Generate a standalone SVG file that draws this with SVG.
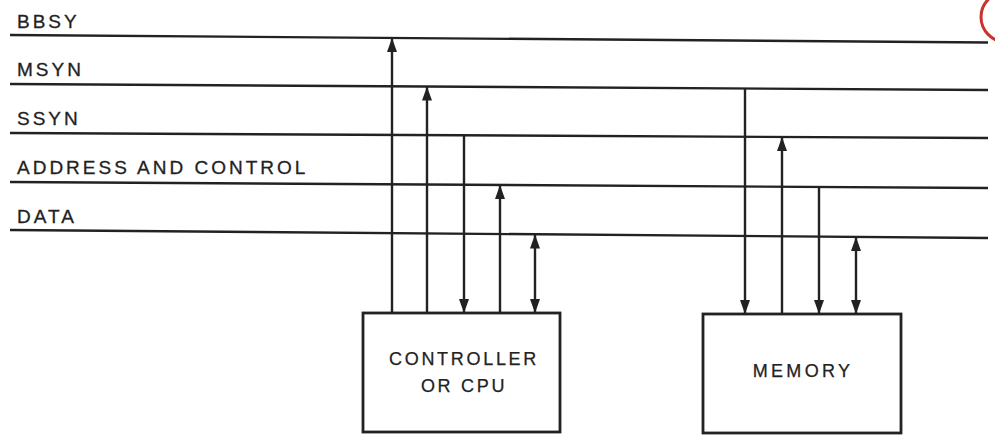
<svg xmlns="http://www.w3.org/2000/svg" width="995" height="440" viewBox="0 0 995 440">
<style>
.bus{stroke:#222;stroke-width:2.4;fill:none}
.lbl{font-family:"Liberation Sans",Arial,sans-serif;font-size:19px;letter-spacing:3px;fill:#222;stroke:#222;stroke-width:0.3}
.box{fill:#fff;stroke:#222;stroke-width:2.8}
.btxt{font-family:"Liberation Sans",Arial,sans-serif;font-size:18px;letter-spacing:2.7px;fill:#222;stroke:#222;stroke-width:0.25;text-anchor:middle}
.conn{stroke:#222;stroke-width:2.4;fill:none}
.up{marker-end:url(#ah)}
.both{marker-start:url(#ah);marker-end:url(#ah)}
</style>
<defs>
<marker id="ah" viewBox="0 0 14 10" refX="14" refY="5" markerWidth="14" markerHeight="10" markerUnits="userSpaceOnUse" orient="auto-start-reverse">
<path d="M0,0 L14,5 L0,10 z" fill="#222"/>
</marker>
</defs>
<rect width="995" height="440" fill="#fff"/>
<g id="buses">
<line class="bus" x1="10" y1="35" x2="988" y2="42.5"/>
<line class="bus" x1="10" y1="84" x2="988" y2="90"/>
<line class="bus" x1="10" y1="133" x2="988" y2="138"/>
<line class="bus" x1="10" y1="182" x2="988" y2="188"/>
<line class="bus" x1="10" y1="230" x2="988" y2="238"/>
<text class="lbl" x="17" y="28">BBSY</text>
<text class="lbl" x="17" y="76">MSYN</text>
<text class="lbl" x="17" y="125">SSYN</text>
<text class="lbl" x="17" y="174">ADDRESS AND CONTROL</text>
<text class="lbl" x="17" y="223">DATA</text>
</g>
<g id="connectors">
<line class="conn up" x1="392" y1="313" x2="392" y2="38"/>
<line class="conn up" x1="427" y1="313" x2="427" y2="86.6"/>
<line class="conn up" x1="464" y1="135.3" x2="464" y2="313"/>
<line class="conn up" x1="500" y1="313" x2="500" y2="185"/>
<line class="conn both" x1="535" y1="234.5" x2="535" y2="313"/>
<line class="conn up" x1="745" y1="88.5" x2="745" y2="314"/>
<line class="conn up" x1="782" y1="314" x2="782" y2="137"/>
<line class="conn up" x1="819" y1="187" x2="819" y2="314"/>
<line class="conn both" x1="856" y1="237" x2="856" y2="314"/>
</g>
<g id="controller">
<rect class="box" x="363" y="313" width="197" height="119"/>
<text class="btxt" x="464" y="365">CONTROLLER</text>
<text class="btxt" x="464" y="392">OR CPU</text>
</g>
<g id="memory">
<rect class="box" x="703" y="314" width="198" height="119"/>
<text class="btxt" x="803" y="377" style="letter-spacing:3.3px">MEMORY</text>
</g>
<circle cx="1006" cy="17" r="25" fill="none" stroke="#c8342c" stroke-width="3"/>
</svg>
